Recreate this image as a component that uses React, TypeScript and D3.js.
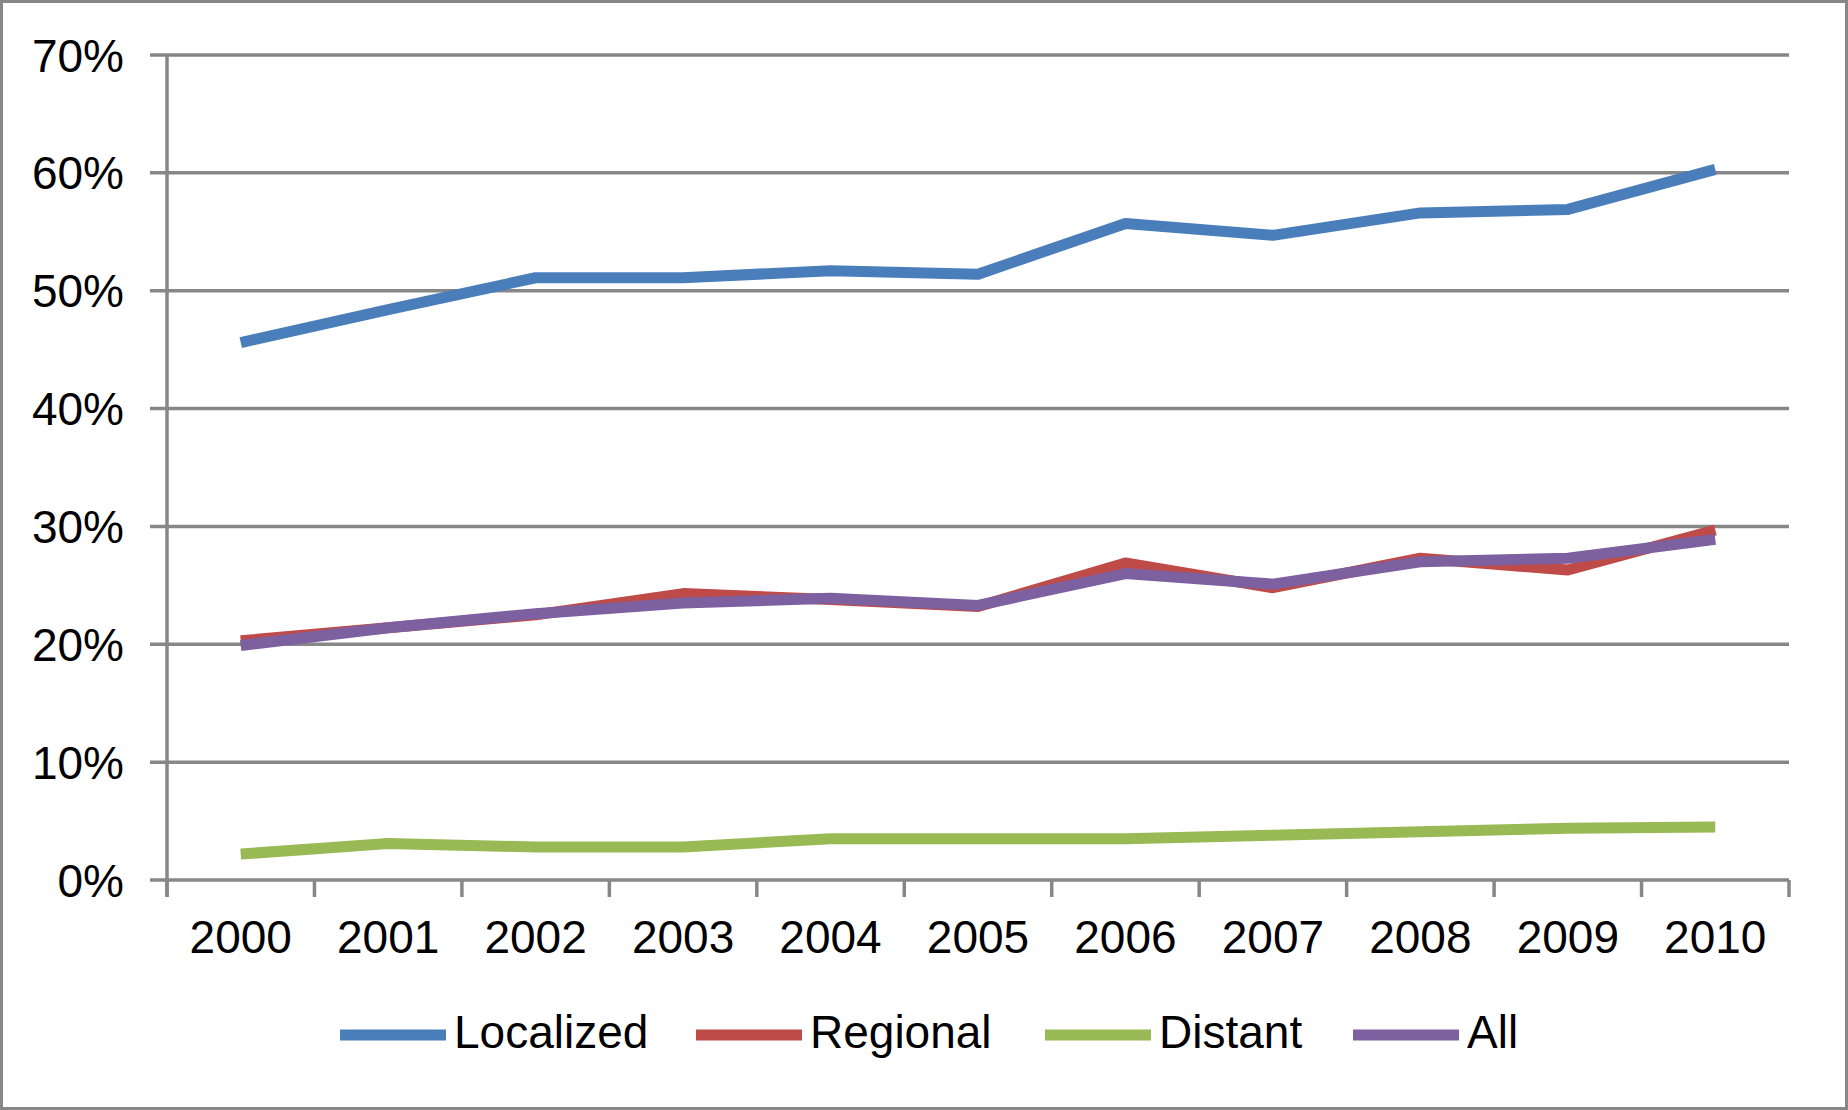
import React from "react";
import * as d3 from "d3";

const years = ["2000", "2001", "2002", "2003", "2004", "2005", "2006", "2007", "2008", "2009", "2010"];
const localized = [45.6, 48.4, 51.1, 51.1, 51.7, 51.4, 55.7, 54.7, 56.6, 56.9, 60.3];
const regional = [20.3, 21.4, 22.5, 24.3, 23.8, 23.2, 26.9, 24.8, 27.3, 26.3, 29.7];
const distant = [2.2, 3.1, 2.8, 2.8, 3.5, 3.5, 3.5, 3.8, 4.1, 4.4, 4.5];
const allSeries = [19.9, 21.4, 22.6, 23.5, 23.9, 23.3, 26.0, 25.1, 27.0, 27.3, 28.9];
const yTicks = [0, 10, 20, 30, 40, 50, 60, 70];
const seriesNames = ["Localized", "Regional", "Distant", "All"];
const seriesColors = ["#4a7ebb", "#be4b48", "#98b954", "#7d60a0"];

const W = 1848;
const H = 1110;
const left = 167;
const right = 1789;
const top = 55;
const bottom = 880;
const font = "'Liberation Sans', Arial, sans-serif";
const grid = "#878787";

export default function App() {
  const x = d3.scaleBand<string>().domain(years).range([left, right]).paddingInner(0).paddingOuter(0);
  const y = d3.scaleLinear().domain([0, 70]).range([bottom, top]);
  const cx = (d: string) => (x(d) as number) + x.bandwidth() / 2;
  const data = [localized, regional, distant, allSeries];
  const line = d3
    .line<number>()
    .x((_, i) => cx(years[i]))
    .y((v) => y(v));
  const boundaries = years.map((d) => x(d) as number).concat([right]);
  const legendStarts = [340, 696, 1045, 1353];
  const legendY = 1035;

  return (
    <svg
      width={W}
      height={H}
      style={{ position: "absolute", left: 0, top: 0, background: "#fff" }}
      fontFamily={font}
    >
      <rect x={1.5} y={1.5} width={W - 3} height={H - 3} fill="#fff" stroke="#878787" strokeWidth={3} />
      {yTicks.map((t) => (
        <g key={t}>
          <line x1={150} x2={right} y1={y(t)} y2={y(t)} stroke={grid} strokeWidth={3.5} />
          <text x={124} y={y(t)} dy="0.36em" textAnchor="end" fontSize={46} fill="#000">
            {t}%
          </text>
        </g>
      ))}
      <line x1={left} x2={left} y1={top} y2={bottom + 17} stroke={grid} strokeWidth={3.5} />
      {boundaries.map((b, i) => (
        <line key={i} x1={b} x2={b} y1={bottom} y2={bottom + 17} stroke={grid} strokeWidth={3.5} />
      ))}
      {years.map((d) => (
        <text key={d} x={cx(d)} y={953} textAnchor="middle" fontSize={46} fill="#000">
          {d}
        </text>
      ))}
      {data.map((s, i) => (
        <path
          key={seriesNames[i]}
          d={line(s) as string}
          fill="none"
          stroke={seriesColors[i]}
          strokeWidth={11}
          strokeLinejoin="round"
          strokeLinecap="butt"
        />
      ))}
      {seriesNames.map((n, i) => (
        <g key={n}>
          <line
            x1={legendStarts[i]}
            x2={legendStarts[i] + 106}
            y1={legendY}
            y2={legendY}
            stroke={seriesColors[i]}
            strokeWidth={11}
            strokeLinecap="butt"
          />
          <text x={legendStarts[i] + 114} y={1048} fontSize={46} fill="#000">
            {n}
          </text>
        </g>
      ))}
    </svg>
  );
}
